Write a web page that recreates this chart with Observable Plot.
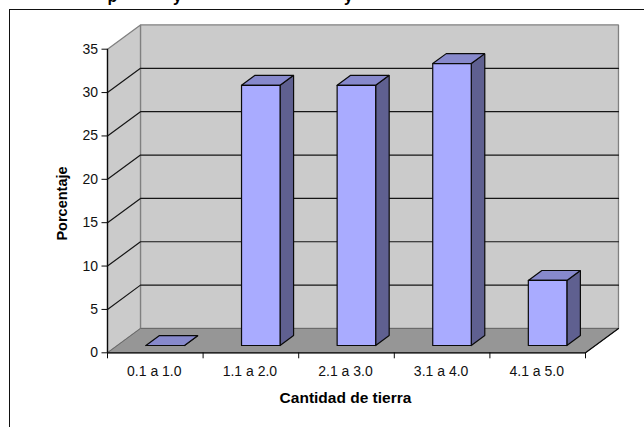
<!DOCTYPE html>
<html>
<head>
<meta charset="utf-8">
<script src="https://cdn.jsdelivr.net/npm/d3@7"></script>
<script src="https://cdn.jsdelivr.net/npm/@observablehq/plot@0.6"></script>
<style>
  html, body { margin: 0; padding: 0; background: #fff; overflow: hidden; }
  #chart { position: relative; width: 644px; height: 427px; overflow: hidden; }
  #chart svg { position: absolute; left: 0; top: 0; background: transparent; }
  #border { position: absolute; left: 8.5px; top: 9px; width: 700px; height: 500px;
            border-left: 1.6px solid #111; border-top: 1.6px solid #111; }
</style>
</head>
<body>
<div id="chart"><div id="border"></div></div>
<script>
const categories = ["0.1 a 1.0", "1.1 a 2.0", "2.1 a 3.0", "3.1 a 4.0", "4.1 a 5.0"];
const values = [0, 30, 30, 32.5, 7.5];
const yTicks = [0, 5, 10, 15, 20, 25, 30, 35];
const xTickIndex = [0, 1, 2, 3, 4, 5];
const titleFragments = ["p", "y", "y"]; // only the descenders of the cropped title survive
const xLabel = "Cantidad de tierra";
const yLabel = "Porcentaje";

// Oblique projection: depth 0 is the front of the box, depth 1 the back wall.
const DEPTH_X = 0.345;   // category units
const DEPTH_Y = 2.8;     // value units
const BAR_WIDTH = 0.403;
const BAR_FRONT = 0.3, BAR_BACK = 0.71;
const pt = (x, y, d = 0) => ({x: x + d * DEPTH_X, y: y + d * DEPTH_Y});
const yMax = 35, xMax = 5;

const poly = (corners, fill, stroke, strokeWidth = 1.2) =>
  Plot.line([...corners, corners[0]], {x: "x", y: "y", fill, stroke, strokeWidth, strokeLinejoin: "miter"});
const seg = (corners, stroke, strokeWidth = 1.2) =>
  Plot.line(corners, {x: "x", y: "y", stroke, strokeWidth});

const wallColor = "#cbcbcb", floorColor = "#969696", edge = "#808080";
const front = "#a9abff", side = "#5f6090", top_ = "#8789cc", ink = "#0a0a0a";

const barMarks = values.flatMap((v, i) => {
  const a = i + 0.5 - BAR_WIDTH / 2, b = i + 0.5 + BAR_WIDTH / 2;
  return [
    poly([pt(b, 0, BAR_FRONT), pt(b, 0, BAR_BACK), pt(b, v, BAR_BACK), pt(b, v, BAR_FRONT)], side, ink),
    poly([pt(a, v, BAR_FRONT), pt(b, v, BAR_FRONT), pt(b, v, BAR_BACK), pt(a, v, BAR_BACK)], top_, ink),
    poly([pt(a, 0, BAR_FRONT), pt(b, 0, BAR_FRONT), pt(b, v, BAR_FRONT), pt(a, v, BAR_FRONT)], front, ink)
  ];
});

const titleGlyph = (text, dx) => Plot.text([text], {
  frameAnchor: "top-left", textAnchor: "middle", lineAnchor: "top",
  dx, dy: -59, text: d => d, fontWeight: "bold", fontSize: 16, fill: "#000"
});

const plot = Plot.plot({
  width: 644,
  height: 427,
  marginLeft: 107,
  marginRight: 59,
  marginTop: 48.7,
  marginBottom: 74.7,
  style: {fontFamily: "'Liberation Sans', Arial, sans-serif", fontSize: "14px", color: "#111", overflow: "visible"},
  x: {domain: [0, xMax]},
  y: {domain: [0, yMax]},
  marks: [
    // back wall, side wall, floor
    poly([pt(0, 0, 1), pt(xMax, 0, 1), pt(xMax, yMax, 1), pt(0, yMax, 1)], wallColor, edge, 1.3),
    poly([pt(0, 0, 0), pt(0, 0, 1), pt(0, yMax, 1), pt(0, yMax, 0)], wallColor, edge, 1.3),
    poly([pt(0, 0, 0), pt(xMax, 0, 0), pt(xMax, 0, 1), pt(0, 0, 1)], floorColor, "#6a6a6a", 1),
    seg([pt(xMax, 0, 0), pt(xMax, 0, 1)], ink, 1.2),
    // gridlines folded around the box
    ...yTicks.filter(v => v > 0 && v < yMax).map(v =>
      seg([pt(0, v, 0), pt(0, v, 1), pt(xMax, v, 1)], "#161616", 1.2)),
    // axes
    Plot.ruleX([0], {stroke: ink, strokeWidth: 1.3}),
    Plot.ruleY([0], {stroke: ink, strokeWidth: 1.3}),
    Plot.axisY({ticks: yTicks, tickSize: 5.5, tickPadding: 4, label: null, fontSize: 14, stroke: ink}),
    Plot.axisX({ticks: xTickIndex, tickSize: 6, tickFormat: () => "", label: null, stroke: ink}),
    Plot.text(categories, {x: (d, i) => i + 0.5, y: 0, text: d => d, dx: -1, dy: 18.5, fontSize: 14, fill: "#111"}),
    // bars
    ...barMarks,
    // axis titles
    Plot.text([xLabel], {frameAnchor: "bottom", lineAnchor: "middle", textAnchor: "middle", dy: 45, dx: -1,
      text: d => d, fontWeight: "bold", fontSize: 15.5, fill: "#000"}),
    Plot.text([yLabel], {frameAnchor: "left", lineAnchor: "middle", textAnchor: "middle", rotate: -90, dx: -45, dy: 2.5,
      text: d => d, fontWeight: "bold", fontSize: 14.5, fill: "#000"}),
    // cropped title
    titleGlyph(titleFragments[0], 5),
    titleGlyph(titleFragments[1], 70),
    titleGlyph(titleFragments[2], 241)
  ]
});
document.getElementById("chart").appendChild(plot);
</script>
</body>
</html>
